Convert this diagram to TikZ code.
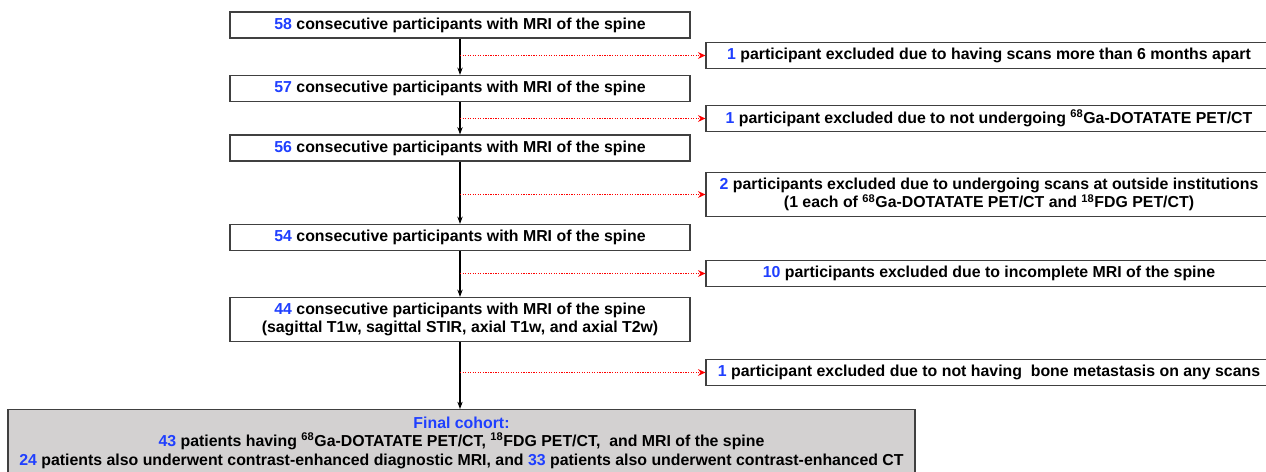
\documentclass[tikz,border=0pt]{standalone}
\usepackage{fontspec}
\setmainfont{Liberation Sans}
\usetikzlibrary{arrows.meta}
\definecolor{numblue}{HTML}{1F3FFF}
\definecolor{boxgray}{HTML}{D3D1D1}
\definecolor{edgegray}{HTML}{404040}
\newcommand{\nb}[1]{\textcolor{numblue}{#1}}
\begin{document}
\begin{tikzpicture}[x=0.75pt,y=-0.75pt,
  txt/.style={font=\bfseries\fontsize{11.9}{14}\selectfont, align=center, inner sep=0pt},
  lbox/.style={txt, draw=edgegray, line width=0.9pt, fill=white, minimum width=345pt, minimum height=19.5pt},
  rbox/.style={txt, draw=edgegray, line width=0.9pt, fill=white, minimum width=424.5pt, minimum height=19.5pt},
  fbox/.style={txt, draw=edgegray, line width=0.9pt, fill=boxgray, minimum width=680.25pt, minimum height=49.5pt},
  flow/.style={black, line width=0.8pt, -{Stealth[length=5.5pt,width=4pt]}},
  excl/.style={red, densely dotted, line width=0.9pt, -{Stealth[length=5.5pt,width=5pt]}}]
\useasboundingbox[fill=white] (0,0) rectangle (1266,471);
\node[lbox] (b1) at (460,25) {\nb{58} consecutive participants with MRI of the spine};
\node[lbox] (b2) at (460,88.5) {\nb{57} consecutive participants with MRI of the spine};
\node[lbox] (b3) at (460,148) {\nb{56} consecutive participants with MRI of the spine};
\node[lbox] (b4) at (460,237.5) {\nb{54} consecutive participants with MRI of the spine};
\node[lbox, minimum height=33pt] (b5) at (460,319.5) {\nb{44} consecutive participants with MRI of the spine\\(sagittal T1w, sagittal STIR, axial T1w, and axial T2w)};
\node[rbox] (r1) at (989,55.5) {\nb{1} participant excluded due to having scans more than 6 months apart};
\node[rbox] (r2) at (989,118.5) {\nb{1} participant excluded due to not undergoing \textsuperscript{68}Ga-DOTATATE PET/CT};
\node[rbox, minimum height=33pt] (r3) at (989,194.5) {\nb{2} participants excluded due to undergoing scans at outside institutions\\(1 each of \textsuperscript{68}Ga-DOTATATE PET/CT and \textsuperscript{18}FDG PET/CT)};
\node[rbox] (r4) at (989,273.5) {\nb{10} participants excluded due to incomplete MRI of the spine};
\node[rbox] (r5) at (989,372.5) {\nb{1} participant excluded due to not having~ bone metastasis on any scans};
\node[fbox, anchor=north] (fin) at (461.5,409) {\textcolor{numblue}{Final cohort:}\\\nb{43} patients having \textsuperscript{68}Ga-DOTATATE PET/CT, \textsuperscript{18}FDG PET/CT,~ and MRI of the spine\\\nb{24} patients also underwent contrast-enhanced diagnostic MRI, and \nb{33} patients also underwent contrast-enhanced CT};
\draw[flow] (b1.south) -- (b2.north);
\draw[flow] (b2.south) -- (b3.north);
\draw[flow] (b3.south) -- (b4.north);
\draw[flow] (b4.south) -- (b5.north);
\draw[flow] (b5.south) -- (b5.south |- fin.north);
\draw[excl] (b1.south |- r1.west) -- (r1.west);
\draw[excl] (b1.south |- r2.west) -- (r2.west);
\draw[excl] (b1.south |- r3.west) -- (r3.west);
\draw[excl] (b1.south |- r4.west) -- (r4.west);
\draw[excl] (b1.south |- r5.west) -- (r5.west);
\end{tikzpicture}
\end{document}
